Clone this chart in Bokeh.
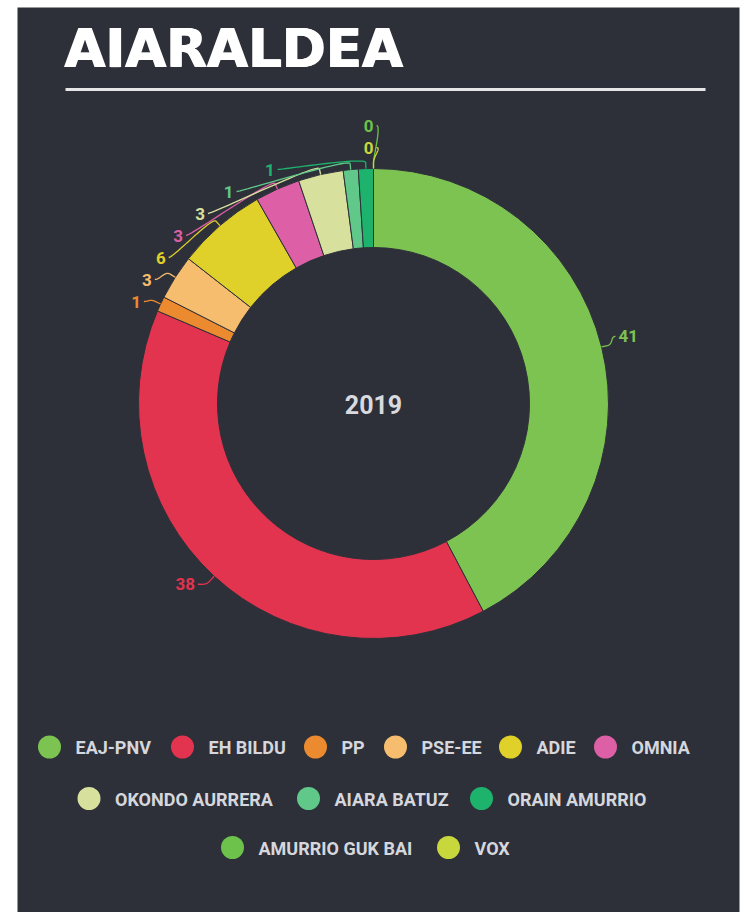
import numpy as np
from bokeh.plotting import figure
from bokeh.models import Range1d, ColumnDataSource
from bokeh.core.properties import value
from bokeh.embed import file_html
from bokeh.resources import INLINE

# ---------------- data ----------------
TITLE = "AIARALDEA"
CENTER_LABEL = "2019"
parties = ["EAJ-PNV", "EH BILDU", "PP", "PSE-EE", "ADIE", "OMNIA",
           "OKONDO AURRERA", "AIARA BATUZ", "ORAIN AMURRIO",
           "AMURRIO GUK BAI", "VOX"]
votes = [41, 38, 1, 3, 6, 3, 3, 1, 1, 0, 0]
colors = ["#7dc352", "#e2334f", "#ec8a2f", "#f6bd6e", "#e0d02a", "#dd5fa5",
          "#d8e09e", "#60c98a", "#1db36d", "#6cc24a", "#c8d83c"]

# legend layout (rows of party indices)
legend_rows = [[0, 1, 2, 3, 4, 5], [6, 7, 8], [9, 10]]
legend_row_y = [746.5, 798, 847]
legend_dot_x = [[49, 182, 315, 395, 510, 605], [88.5, 308, 481], [232, 448]]

# ---------------- page geometry (pixel coordinates, y down) ----------------
W, H = 749, 912


def Y(py):
    return H - py


BG = "#2e3039"
CX, CY = 373, 403
R_OUT, R_IN = 235, 156
LR = 254          # label circle radius
LABEL_DY = -6
GAP = 22

p = figure(width=W, height=H, x_range=Range1d(0, W), y_range=Range1d(0, H),
           x_axis_type=None, y_axis_type=None,
           toolbar_location=None, output_backend="svg", min_border=0)
p.outline_line_color = None
p.background_fill_color = "white"
p.border_fill_color = "white"
p.grid.visible = False

# card
p.quad(left=17, right=739, top=Y(7), bottom=Y(H + 5), fill_color=BG, line_color=None)

# title & rule
for dx in (-0.7, 0.0, 0.7):
    p.text(x=[64 + dx], y=[Y(48)], text=[TITLE], text_font=value("DejaVu Sans"), text_font_style="bold",
           text_font_size="53px", text_color="white", text_baseline="middle", text_align="left")
p.segment(x0=[65], y0=[Y(89)], x1=[705], y1=[Y(89)], line_width=3, line_color="#e6e6e6")

# ---------------- donut ----------------
vals = np.array(votes, dtype=float)
total = vals.sum()
cum = np.concatenate([[0], np.cumsum(vals)])
th_start = cum[:-1] / total * 360.0
th_end = cum[1:] / total * 360.0
th_mid = (th_start + th_end) / 2

nz = vals > 0
src = ColumnDataSource(dict(
    start=(np.pi / 2 - np.radians(th_start))[nz],
    end=(np.pi / 2 - np.radians(th_end))[nz],
    color=[c for c, k in zip(colors, nz) if k],
))
p.annular_wedge(x=CX, y=Y(CY), inner_radius=R_IN, outer_radius=R_OUT,
                start_angle="start", end_angle="end", direction="clock",
                fill_color="color", line_color=BG, line_width=1, source=src)

p.text(x=[CX], y=[Y(CY + 1)], text=[CENTER_LABEL], text_font=value("Roboto"), text_font_style="bold",
       text_font_size="25px", text_color="#d8dadf", text_align="center", text_baseline="middle")


# ---------------- data labels ----------------
def distribute(targets, idxs, gap, lo, hi):
    order = sorted(idxs, key=lambda i: (round(targets[i], 6), i))
    clusters = [[i] for i in order]

    def place(c):
        n = len(c)
        m = np.mean([targets[i] for i in c])
        first = m - (n - 1) * gap / 2
        first = max(first, lo)
        first = min(first, hi - (n - 1) * gap)
        return first

    changed = True
    while changed:
        changed = False
        for k in range(len(clusters) - 1):
            a, b = clusters[k], clusters[k + 1]
            if place(a) + len(a) * gap > place(b):
                clusters[k] = a + b
                del clusters[k + 1]
                changed = True
                break
    pos = {}
    for c in clusters:
        f = place(c)
        for j, i in enumerate(c):
            pos[i] = f + j * gap
    return pos


rad = np.radians(th_mid)
targets = CY - LR * np.cos(rad) + LABEL_DY
left = [i for i in range(len(votes)) if th_mid[i] >= 180]
right = [i for i in range(len(votes)) if th_mid[i] < 180]
lo, hi = CY - R_OUT - 43, CY + R_OUT + 43
ypos = {}
ypos.update(distribute(targets, left, GAP, lo, hi))
ypos.update(distribute(targets, right, GAP, lo, hi))


def bezier(p0, c1, c2, p3, n=24):
    t = np.linspace(0, 1, n)[:, None]
    pts = ((1 - t) ** 3) * p0 + 3 * ((1 - t) ** 2) * t * c1 + 3 * (1 - t) * t ** 2 * c2 + t ** 3 * p3
    return pts


groups = {"left": dict(x=[], y=[], t=[], c=[]), "right": dict(x=[], y=[], t=[], c=[])}
cxs, cys, ccol = [], [], []
for i in range(len(votes)):
    yl = ypos[i]
    dy = yl - CY
    dx = np.sqrt(max(0.0, LR ** 2 - dy ** 2))
    side = "left" if i in left else "right"
    sgn = -1 if side == "left" else 1
    xe = CX + sgn * dx
    g = groups[side]
    g["x"].append(xe)
    g["y"].append(Y(yl))
    g["t"].append(str(votes[i]))
    g["c"].append(colors[i])
    # connector
    p0 = np.array([xe - sgn * 3, yl])
    c1 = p0 + np.array([-sgn * 5, 0])
    T = np.array([CX + R_OUT * np.sin(rad[i]), CY - R_OUT * np.cos(rad[i])])
    B = np.array([CX + (R_OUT + 6) * np.sin(rad[i]), CY - (R_OUT + 6) * np.cos(rad[i])])
    c2 = 2 * B - T
    pts = np.vstack([bezier(p0, c1, c2, B), T[None, :]])
    cxs.append(list(pts[:, 0]))
    cys.append([Y(v) for v in pts[:, 1]])
    ccol.append(colors[i])

p.multi_line(xs=cxs, ys=cys, line_color=ccol, line_width=1.3)

for side, align in (("left", "right"), ("right", "left")):
    g = groups[side]
    s = ColumnDataSource(dict(x=g["x"], y=g["y"], t=g["t"], c=g["c"]))
    p.text(x="x", y="y", text="t", text_color="c", source=s, text_align=align,
           text_baseline="middle", text_font=value("Roboto"), text_font_style="bold",
           text_font_size="17px")

# ---------------- legend ----------------
lx, ly, lc, lt = [], [], [], []
for row, ry, xs in zip(legend_rows, legend_row_y, legend_dot_x):
    for i, x in zip(row, xs):
        lx.append(x)
        ly.append(Y(ry))
        lc.append(colors[i])
        lt.append(parties[i])
p.circle(x=lx, y=ly, radius=11.5, fill_color=lc, line_color=None)
p.text(x=[x + 26 for x in lx], y=[y - 0.5 for y in ly], text=lt, text_color="#d5d7dd",
       text_font=value("Roboto"), text_font_style="bold", text_font_size="18px",
       text_align="left", text_baseline="middle")

open("out.html", "w").write(file_html(p, INLINE))
